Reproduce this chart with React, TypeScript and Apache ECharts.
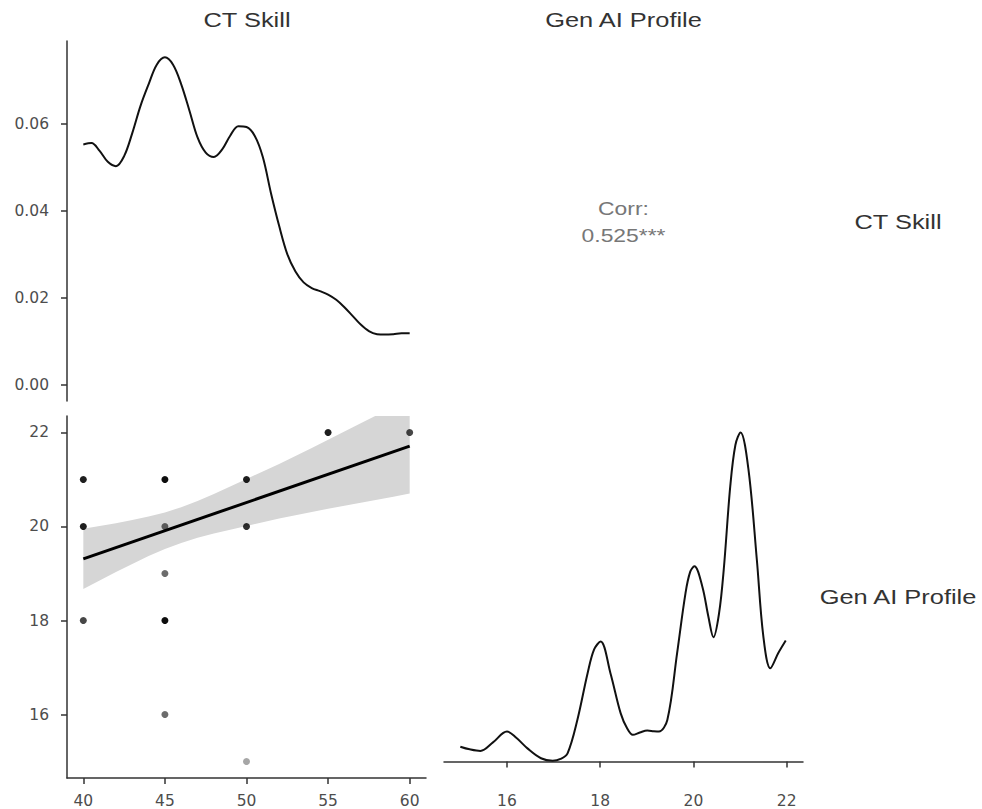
import React, { useEffect, useRef } from "react";
import * as echarts from "echarts";

// ---- data ----
const varNames = ["CT Skill", "Gen AI Profile"];
const corrLabel = "Corr:";
const corrValue = "0.525***";

const ctTicks = [40, 45, 50, 55, 60];
const genTicks = [16, 18, 20, 22];
const densityTicks = [0, 0.02, 0.04, 0.06];

const ctSkillX = [40, 40.5, 41, 41.5, 42, 42.5, 43, 43.5, 44, 44.5, 45, 45.5, 46, 46.5, 47, 47.5, 48, 48.5, 49, 49.5, 50, 50.5, 51, 51.5, 52, 52.5, 53, 53.5, 54, 54.5, 55, 55.5, 56, 56.5, 57, 57.5, 58, 58.5, 59, 59.5, 60];
const ctSkillDensity = [0.0552, 0.0555, 0.0537, 0.0512, 0.0502, 0.0525, 0.0578, 0.064, 0.069, 0.0735, 0.0752, 0.0735, 0.069, 0.063, 0.0568, 0.0533, 0.0523, 0.054, 0.0572, 0.0594, 0.0592, 0.0572, 0.0523, 0.044, 0.0365, 0.03, 0.026, 0.0235, 0.0222, 0.0215, 0.0207, 0.0195, 0.0178, 0.0158, 0.0138, 0.0123, 0.0116, 0.0115, 0.0116, 0.0118, 0.0118];

const genAiX = [15.0, 15.2, 15.43, 15.7, 16.0, 16.2, 16.44, 16.73, 16.98, 17.15, 17.3, 17.51, 17.73, 17.87, 18.01, 18.22, 18.44, 18.58, 18.7, 18.85, 19.01, 19.15, 19.26, 19.44, 19.65, 19.83, 19.93, 20.02, 20.19, 20.32, 20.43, 20.55, 20.65, 20.79, 20.9, 21.01, 21.18, 21.36, 21.5, 21.65, 21.82, 21.98];
const genAiDensity = [0.045, 0.037, 0.032, 0.058, 0.091, 0.072, 0.04, 0.01, 0.0025, 0.008, 0.025, 0.126, 0.268, 0.34, 0.364, 0.268, 0.146, 0.1, 0.081, 0.088, 0.094, 0.092, 0.091, 0.126, 0.329, 0.511, 0.575, 0.592, 0.531, 0.44, 0.377, 0.45, 0.582, 0.835, 0.96, 0.998, 0.886, 0.612, 0.379, 0.283, 0.329, 0.367];

const scatterCT = [40, 40, 40, 45, 45, 45, 45, 45, 50, 50, 50, 55, 60];
const scatterGen = [21, 20, 18, 21, 20, 19, 18, 16, 21, 20, 15, 22, 22];
const scatterOverlap = [5, 5, 3, 7, 2, 2, 7, 2, 5, 4, 1, 5, 3];

const fitX = [40, 60];
const fitY = [19.31, 21.71];
const ciX = [40, 41, 42, 43, 44, 45, 46, 47, 48, 49, 50, 51, 52, 53, 54, 55, 56, 57, 58, 59, 60];
const ciLower = [18.67, 18.85, 19.03, 19.2, 19.37, 19.52, 19.65, 19.76, 19.85, 19.93, 20.01, 20.09, 20.17, 20.24, 20.31, 20.375, 20.44, 20.505, 20.57, 20.635, 20.7];
const ciUpper = [19.95, 20.01, 20.07, 20.14, 20.21, 20.3, 20.41, 20.54, 20.69, 20.85, 21.01, 21.17, 21.33, 21.5, 21.67, 21.845, 22.02, 22.195, 22.37, 22.545, 22.72];

export default function App() {
  const ref = useRef<HTMLDivElement>(null);

  useEffect(() => {
    if (!ref.current) return;
    const chart = echarts.init(ref.current, null, { renderer: "svg" });

    const lineColor = "#333333";
    const tickLabel = { color: "#4d4d4d", fontSize: 15.5, fontFamily: "DejaVu Sans" };
    const textFont = "Liberation Sans";
    const stretch = 1.27;

    const ctMax = Math.max(...ctSkillDensity);
    const genMax = Math.max(...genAiDensity);
    const expand = (lo: number, hi: number) => {
      const d = (hi - lo) * 0.05;
      return [lo - d, hi + d];
    };
    const ctRange = expand(40, 60);
    const genRange = expand(15, 22);
    const ctDenRange = expand(0, ctMax);
    const genDenRange = expand(0, genMax);

    const shownAxis = (ticks: number[], fmt: (v: number) => string, margin: number) => ({
      type: "value",
      axisLine: { show: true, lineStyle: { color: lineColor, width: 1.5 } },
      axisTick: { show: true, length: 6, lineStyle: { color: lineColor, width: 1.5 }, customValues: ticks },
      axisLabel: { ...tickLabel, margin, customValues: ticks, formatter: fmt },
      splitLine: { show: false },
    });

    const hiddenAxis = { type: "value", show: false, splitLine: { show: false } };

    const scatterData = scatterCT.map((x, i) => ({
      value: [x, scatterGen[i]],
      itemStyle: { color: "#000", opacity: 1 - Math.pow(0.65, scatterOverlap[i]) },
    }));

    const mkText = (text: string, x: number, y: number, size: number, color: string) => ({
      type: "text",
      x,
      y,
      scaleX: stretch,
      style: { text, fontSize: size, fontFamily: textFont, fill: color, align: "center", verticalAlign: "middle" },
    });

    chart.setOption({
      animation: false,
      backgroundColor: "#ffffff",
      grid: [
        { left: 67, top: 41, width: 359, height: 360 },
        { left: 67, top: 416, width: 359, height: 362 },
        { left: 444, top: 416, width: 359, height: 362 },
      ],
      xAxis: [
        { ...hiddenAxis, gridIndex: 0, min: ctRange[0], max: ctRange[1] },
        { ...shownAxis(ctTicks, (v: number) => String(v), 15), gridIndex: 1, min: ctRange[0], max: ctRange[1] },
        { ...shownAxis(genTicks, (v: number) => String(v), 15), gridIndex: 2, min: genRange[0], max: genRange[1] },
      ],
      yAxis: [
        { ...shownAxis(densityTicks, (v: number) => v.toFixed(2), 18), gridIndex: 0, min: ctDenRange[0], max: ctDenRange[1] },
        { ...shownAxis(genTicks, (v: number) => String(v), 18), gridIndex: 1, min: genRange[0], max: genRange[1] },
        { ...hiddenAxis, gridIndex: 2, min: genDenRange[0], max: genDenRange[1] },
      ],
      series: [
        {
          type: "line",
          xAxisIndex: 0,
          yAxisIndex: 0,
          data: ctSkillX.map((x, i) => [x, ctSkillDensity[i]]),
          smooth: 0.35,
          showSymbol: false,
          symbol: "none",
          lineStyle: { color: "#111", width: 2 },
        },
        {
          type: "custom",
          xAxisIndex: 1,
          yAxisIndex: 1,
          data: [[ciX[0], ciLower[0]]],
          encode: { x: 0, y: 1 },
          z: 1,
          renderItem: (params: any, api: any) => {
            if (params.dataIndex !== 0) return null;
            const pts: number[][] = [];
            for (let i = 0; i < ciX.length; i++) pts.push(api.coord([ciX[i], ciUpper[i]]));
            for (let i = ciX.length - 1; i >= 0; i--) pts.push(api.coord([ciX[i], ciLower[i]]));
            const cs = params.coordSys;
            return {
              type: "polygon",
              shape: { points: pts },
              style: { fill: "#d6d6d6" },
              clipPath: { type: "rect", shape: { x: cs.x, y: cs.y, width: cs.width, height: cs.height } },
            };
          },
        },
        {
          type: "scatter",
          xAxisIndex: 1,
          yAxisIndex: 1,
          data: scatterData,
          symbolSize: 7,
          z: 2,
        },
        {
          type: "line",
          xAxisIndex: 1,
          yAxisIndex: 1,
          data: fitX.map((x, i) => [x, fitY[i]]),
          showSymbol: false,
          symbol: "none",
          z: 3,
          lineStyle: { color: "#000", width: 3 },
        },
        {
          type: "line",
          xAxisIndex: 2,
          yAxisIndex: 2,
          data: genAiX.map((x, i) => [x, genAiDensity[i]]),
          smooth: 0.35,
          showSymbol: false,
          symbol: "none",
          lineStyle: { color: "#111", width: 2 },
        },
      ],
      graphic: [
        mkText(varNames[0], 247, 20, 20, "#333"),
        mkText(varNames[1], 623.5, 20, 20, "#333"),
        mkText(varNames[0], 898, 222, 20, "#333"),
        mkText(varNames[1], 898, 597, 20, "#333"),
        mkText(corrLabel, 623.5, 208.5, 18, "#777"),
        mkText(corrValue, 623.5, 235, 18, "#777"),
      ],
    });

    return () => chart.dispose();
  }, []);

  return (
    <div
      ref={ref}
      style={{ position: "fixed", left: 0, top: 0, width: 982, height: 809, background: "#fff" }}
    />
  );
}
